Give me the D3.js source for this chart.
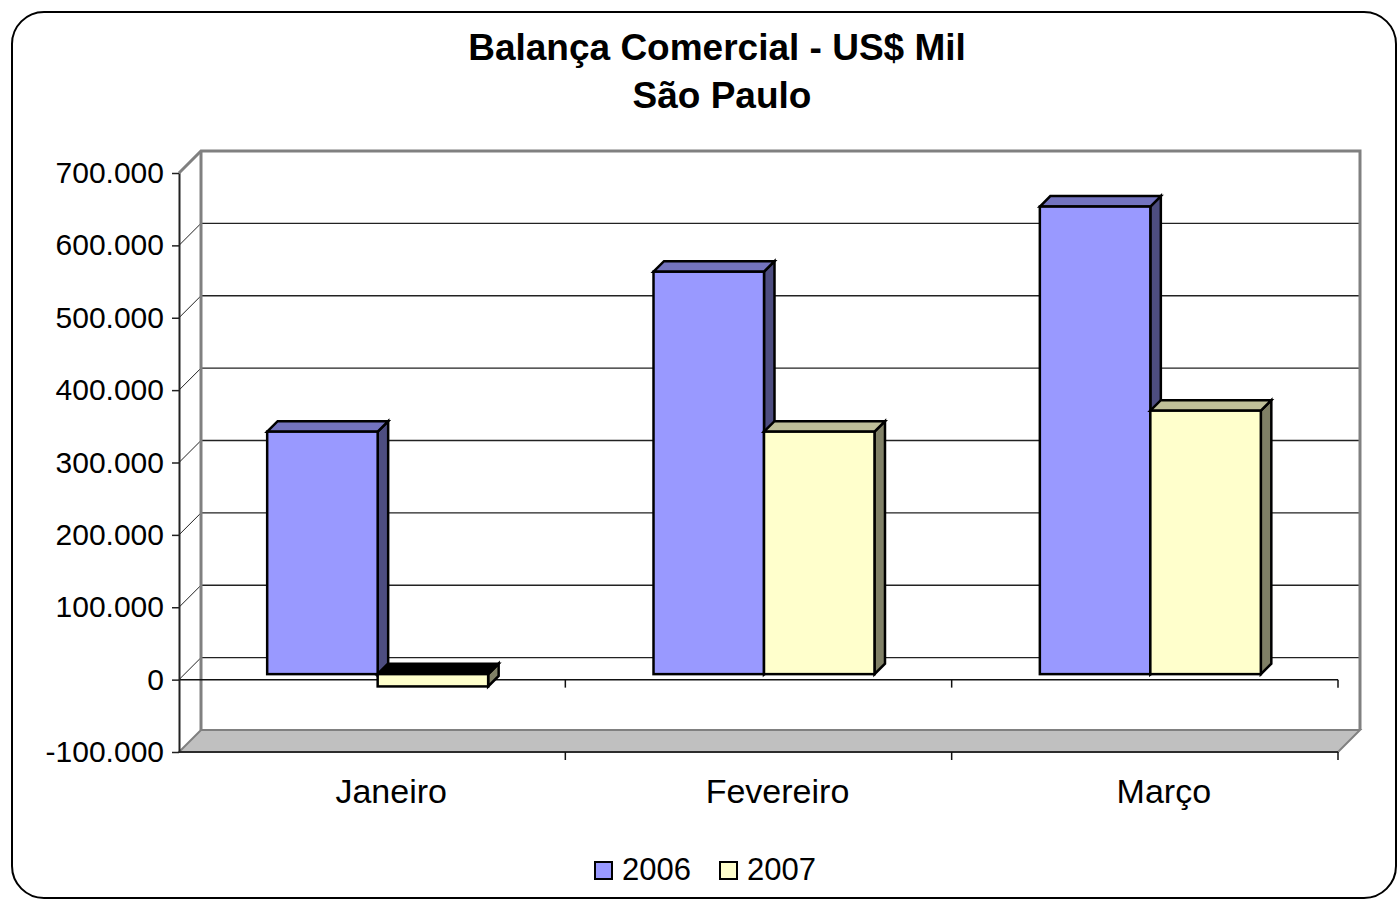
<!DOCTYPE html>
<html>
<head>
<meta charset="utf-8">
<script src="https://cdn.jsdelivr.net/npm/d3@7"></script>
<style>
  body { margin: 0; background: #fff; }
  text { font-family: "Liberation Sans", Arial, sans-serif; fill: #000; }
</style>
</head>
<body>
<svg id="chart" width="1397" height="901"></svg>
<script>
// data (US$ mil)
var months = ["Janeiro", "Fevereiro", "Março"];
var years = ["2006", "2007"];
var values2006 = [335000, 556000, 646000];
var values2007 = [-17000, 335000, 364000];
var yTicks = [-100000, 0, 100000, 200000, 300000, 400000, 500000, 600000, 700000];

var frontColors = { "2006": "#9999ff", "2007": "#ffffcc" },
    topColors   = { "2006": "#7373bf", "2007": "#bfbf99" },
    sideColors  = { "2006": "#4d4d80", "2007": "#808066" };

var svg = d3.select("#chart");
var depth = 22,     // wall depth offset
    barOff = 5.5,   // bars stand a bit behind the front plane
    barDepth = 10.5;

var br = d3.formatLocale({ decimal: ",", thousands: ".", grouping: [3], currency: ["R$", ""], minus: "-" });
var fmt = br.format(",.0f");

var x0 = d3.scaleBand().domain(months).range([179, 1338]).padding(0);
var groupFrac = 0.572;
var x1 = d3.scaleBand().domain(years)
    .range([x0.bandwidth() * (1 - groupFrac) / 2, x0.bandwidth() * (1 + groupFrac) / 2]);
var y = d3.scaleLinear().domain([-100000, 700000]).range([752, 173]);

// outer frame
svg.append("rect")
   .attr("x", 12).attr("y", 12)
   .attr("width", 1384).attr("height", 886)
   .attr("rx", 32).attr("ry", 32)
   .attr("fill", "#fff").attr("stroke", "#000").attr("stroke-width", 2);

// title
var title = svg.append("text").attr("text-anchor", "middle")
   .attr("font-weight", "bold").attr("font-size", 37);
title.append("tspan").attr("x", 717).attr("y", 60).text("Balança Comercial - US$ Mil");
title.append("tspan").attr("x", 722).attr("y", 108).text("São Paulo");

var xl = x0.range()[0], xr = x0.range()[1];

// floor
svg.append("path")
   .attr("d", d3.line()([[xl, y(-100000)], [xl + depth, y(-100000) - depth],
                         [xr + depth, y(-100000) - depth], [xr, y(-100000)]]) + "Z")
   .attr("fill", "#c0c0c0").attr("stroke", "#808080").attr("stroke-width", 2);

// gridlines on back wall and side wall
var grid = svg.append("g");
yTicks.filter(function(d) { return d > -100000 && d < 700000; }).forEach(function(d) {
  grid.append("line")
      .attr("x1", xl + depth).attr("x2", xr + depth)
      .attr("y1", y(d) - depth).attr("y2", y(d) - depth)
      .attr("stroke", "#222").attr("stroke-width", 1.3);
  grid.append("line")
      .attr("x1", xl).attr("x2", xl + depth)
      .attr("y1", y(d)).attr("y2", y(d) - depth)
      .attr("stroke", "#222").attr("stroke-width", 1);
});

// wall edges
svg.append("path")
   .attr("d", d3.line()([[xl, y(700000)], [xl + depth, y(700000) - depth],
                         [xr + depth, y(700000) - depth], [xr + depth, y(-100000) - depth]]))
   .attr("fill", "none").attr("stroke", "#808080").attr("stroke-width", 3);
svg.append("line")
   .attr("x1", xl + depth).attr("x2", xl + depth)
   .attr("y1", y(700000) - depth).attr("y2", y(-100000) - depth)
   .attr("stroke", "#808080").attr("stroke-width", 3);

// front category axis at zero and at the floor
[0, -100000].forEach(function(v) {
  svg.append("line")
     .attr("x1", xl).attr("x2", xr)
     .attr("y1", y(v)).attr("y2", y(v))
     .attr("stroke", "#111").attr("stroke-width", 1.5);
  months.forEach(function(m) {
    var tx = x0(m) + x0.bandwidth();
    svg.append("line")
       .attr("x1", tx).attr("x2", tx)
       .attr("y1", y(v)).attr("y2", y(v) + 8)
       .attr("stroke", "#111").attr("stroke-width", 1.5);
  });
});

// value axis
var yAxis = svg.append("g")
   .attr("transform", "translate(" + xl + ",0)")
   .call(d3.axisLeft(y).tickValues(yTicks).tickSize(7).tickSizeOuter(0)
           .tickPadding(8).tickFormat(function(d) { return fmt(d); }));
yAxis.select(".domain").attr("stroke", "#222").attr("stroke-width", 2);
yAxis.selectAll(".tick line").attr("stroke", "#222").attr("stroke-width", 1.5);
yAxis.selectAll(".tick text")
     .attr("font-size", 30).attr("font-family", "Liberation Sans, Arial, sans-serif")
     .attr("fill", "#000");

// category labels
svg.append("g").selectAll("text")
   .data(months).join("text")
   .attr("x", function(d) { return x0(d) + x0.bandwidth() / 2 + 19; })
   .attr("y", 803)
   .attr("text-anchor", "middle").attr("font-size", 34)
   .text(function(d) { return d; });

// 3D bars
var bars = [];
months.forEach(function(m, i) {
  bars.push({ month: m, year: "2006", value: values2006[i] });
  bars.push({ month: m, year: "2007", value: values2007[i] });
});

var barG = svg.append("g")
   .attr("stroke", "#000").attr("stroke-width", 2.5).attr("stroke-linejoin", "miter");

bars.forEach(function(b) {
  var xa = x0(b.month) + x1(b.year) + barOff,
      xb = xa + x1.bandwidth(),
      yt = y(Math.max(b.value, 0)) - barOff,
      yb = y(Math.min(b.value, 0)) - barOff,
      D = barDepth;
  // side face
  barG.append("path")
      .attr("d", d3.line()([[xb, yt], [xb + D, yt - D], [xb + D, yb - D], [xb, yb]]) + "Z")
      .attr("fill", sideColors[b.year]);
  // top face
  barG.append("path")
      .attr("d", d3.line()([[xa, yt], [xa + D, yt - D], [xb + D, yt - D], [xb, yt]]) + "Z")
      .attr("fill", b.value < 0 ? "#000" : topColors[b.year]);
  // front face
  barG.append("rect")
      .attr("x", xa).attr("y", yt)
      .attr("width", xb - xa).attr("height", yb - yt)
      .attr("fill", frontColors[b.year]);
});

// legend
var legend = svg.append("g").attr("transform", "translate(595,862)");
var legItems = legend.selectAll("g").data(years).join("g")
   .attr("transform", function(d, i) { return "translate(" + (i * 125) + ",0)"; });
legItems.append("rect")
   .attr("width", 17).attr("height", 17)
   .attr("fill", function(d) { return frontColors[d]; })
   .attr("stroke", "#000").attr("stroke-width", 2);
legItems.append("text")
   .attr("x", 27).attr("y", 18)
   .attr("font-size", 31)
   .text(function(d) { return d; });
</script>
</body>
</html>
